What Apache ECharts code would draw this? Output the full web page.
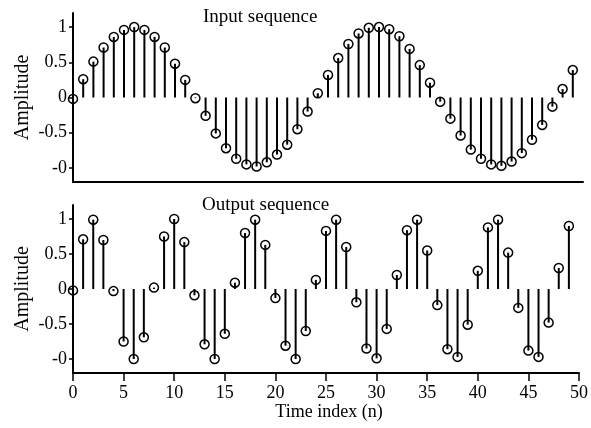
<!DOCTYPE html>
<html>
<head>
<meta charset="utf-8">
<script src="https://cdn.jsdelivr.net/npm/echarts@6/dist/echarts.min.js"></script>
<style>
  html, body { margin: 0; padding: 0; background: #fff; }
  #chart { width: 591px; height: 428px; }
</style>
</head>
<body>
<div id="chart"></div>
<script>
// values
const inputSeq = [-0.02, 0.26, 0.51, 0.71, 0.86, 0.96, 1.0, 0.96, 0.86, 0.71,
  0.48, 0.25, -0.01, -0.26, -0.51, -0.72, -0.87, -0.95, -0.98, -0.92,
  -0.81, -0.67, -0.45, -0.2, 0.06, 0.32, 0.56, 0.76, 0.91, 0.99,
  1.0, 0.97, 0.87, 0.69, 0.46, 0.21, -0.06, -0.3, -0.54, -0.74,
  -0.87, -0.95, -0.97, -0.91, -0.79, -0.6, -0.39, -0.13, 0.12, 0.39];
const outputSeq = [-0.02, 0.71, 0.99, 0.70, -0.03, -0.75, -1.0, -0.69, 0.02, 0.75,
  1.0, 0.67, -0.09, -0.79, -1.0, -0.64, 0.09, 0.8, 0.99, 0.63,
  -0.13, -0.81, -1.0, -0.6, 0.13, 0.83, 0.99, 0.6, -0.19, -0.85,
  -0.99, -0.57, 0.2, 0.84, 0.99, 0.55, -0.23, -0.86, -0.97, -0.51,
  0.26, 0.88, 0.99, 0.52, -0.27, -0.88, -0.97, -0.48, 0.3, 0.9];
const yTicks = [-1, -0.5, 0, 0.5, 1];
const yTickLabels = ['-0', '-0.5', '0', '0.5', '1'];
const xTicks = [0, 5, 10, 15, 20, 25, 30, 35, 40, 45, 50];

const FONT = 'Liberation Serif';
const pairs = arr => arr.map((v, n) => [n, v]);

const chart = echarts.init(document.getElementById('chart'));

function yAxis(gridIndex){
  return {
    type: 'value', gridIndex: gridIndex, min: -1.2, max: 1.2,
    name: 'Amplitude', nameLocation: 'middle', nameGap: 40, nameMoveOverlap: false,
    nameTextStyle: {fontFamily: FONT, fontSize: 20, color: '#000'},
    axisLine: {show: true, lineStyle: {color: '#000', width: 2}},
    axisTick: {show: true, length: 4, customValues: yTicks, lineStyle: {color: '#000', width: 1.5}},
    axisLabel: {
      customValues: yTicks, margin: 6,
      fontFamily: FONT, fontSize: 18, color: '#000',
      formatter: v => yTickLabels[yTicks.indexOf(v)]
    },
    splitLine: {show: false}
  };
}

function stems(idx, arr){
  return [{
    type: 'bar', xAxisIndex: idx, yAxisIndex: idx,
    data: pairs(arr), barWidth: 2,
    itemStyle: {color: '#000'}, silent: true
  }, {
    type: 'scatter', xAxisIndex: idx, yAxisIndex: idx,
    data: pairs(arr), symbol: 'circle', symbolSize: 9,
    itemStyle: {color: 'rgba(0,0,0,0)', borderColor: '#000', borderWidth: 1.5, opacity: 1},
    z: 5, silent: true
  }];
}

chart.setOption({
  animation: false,
  backgroundColor: '#fff',
  title: [
    {text: 'Input sequence', left: 203, top: 8, padding: 0,
      textStyle: {fontFamily: FONT, fontSize: 19, fontWeight: 'normal', color: '#000'}},
    {text: 'Output sequence', left: 202, top: 196, padding: 0,
      textStyle: {fontFamily: FONT, fontSize: 19, fontWeight: 'normal', color: '#000'}}
  ],
  grid: [
    {left: 73, right: 8, top: 13, height: 169},
    {left: 73, right: 8, top: 205, height: 168}
  ],
  xAxis: [
    {type: 'value', gridIndex: 0, min: 0, max: 50,
      axisLine: {show: true, onZero: false, lineStyle: {color: '#000', width: 2}},
      axisTick: {show: false}, axisLabel: {show: false}, splitLine: {show: false}},
    {type: 'value', gridIndex: 1, min: 0, max: 50, interval: 5,
      name: 'Time index (n)', nameLocation: 'middle', nameGap: 30, nameMoveOverlap: false,
      nameTextStyle: {fontFamily: FONT, fontSize: 18, color: '#000', padding: [0, 0, 0, 6]},
      axisLine: {show: true, onZero: false, lineStyle: {color: '#000', width: 2}},
      axisTick: {show: true, length: 8, customValues: xTicks, lineStyle: {color: '#000', width: 1.5}},
      axisLabel: {customValues: xTicks, margin: 11, fontFamily: FONT, fontSize: 18, color: '#000'},
      splitLine: {show: false}}
  ],
  yAxis: [yAxis(0), yAxis(1)],
  series: [].concat(stems(0, inputSeq), stems(1, outputSeq))
});
</script>
</body>
</html>
